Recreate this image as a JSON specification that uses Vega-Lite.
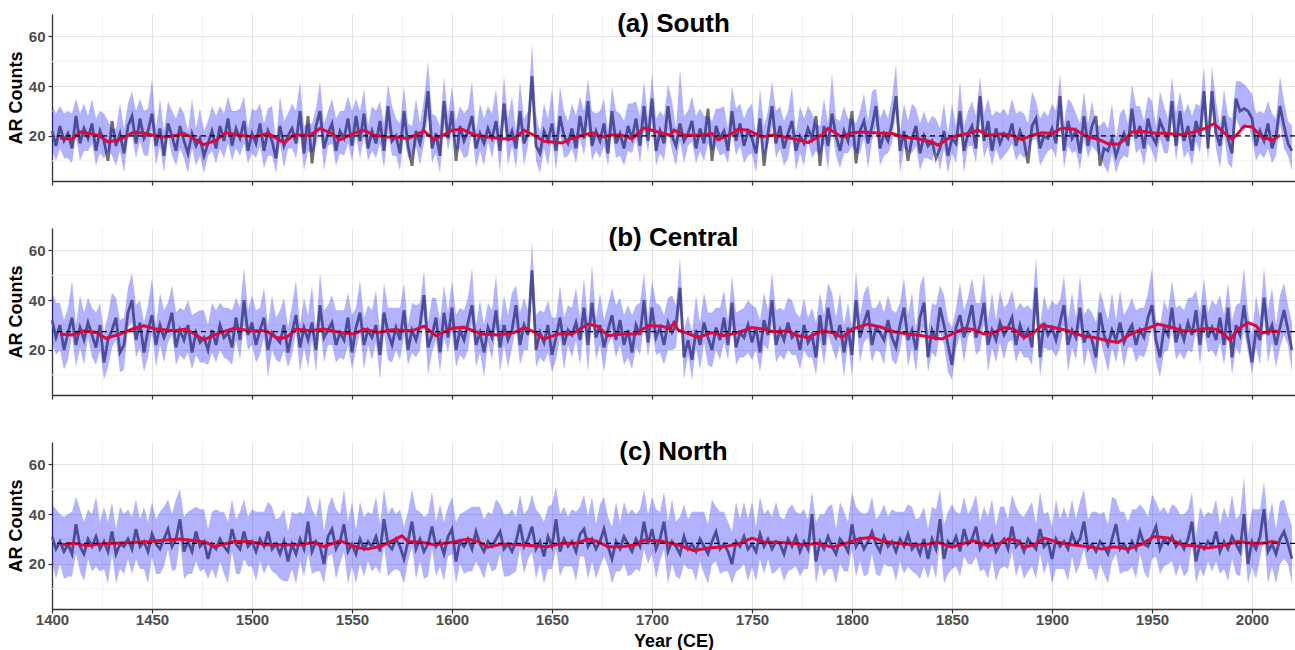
{
"$schema":"https://vega.github.io/schema/vega-lite/v6.json",
"padding":{"left":7,"top":11,"right":0,"bottom":0},
"background":"white",
"spacing":39,
"config":{"font":"Liberation Sans","view":{"stroke":null},
"title":{"fontSize":26,"fontWeight":"bold","color":"#000000","font":"Liberation Sans","offset":-23,"baseline":"alphabetic","anchor":"middle"},
"axis":{"domainColor":"#333333","domainWidth":1.3,"tickColor":"#333333","tickWidth":1.2,"tickSize":4,"labelColor":"#4d4d4d","labelFontSize":15,"labelFontWeight":"bold","labelFont":"Liberation Sans","titleFont":"Liberation Sans","titleFontSize":18,"titleFontWeight":"bold","titleColor":"#000000","gridWidth":1,"gridColor":"#e3e3e3","labelOverlap":false,"labelFlush":false}},
"datasets":{
"grid":[{"g":10},{"g":30},{"g":50}],
"a":[{"x":1400,"v":22,"l":14,"h":32},{"x":1402,"v":16,"l":10,"h":29},{"x":1404,"v":24,"l":15,"h":32},{"x":1406,"v":18,"l":11,"h":29},{"x":1408,"v":21,"l":11,"h":30},{"x":1410,"v":15,"l":9,"h":29},{"x":1412,"v":28,"l":20,"h":35},{"x":1414,"v":17,"l":10,"h":29},{"x":1416,"v":23,"l":14,"h":33},{"x":1418,"v":19,"l":14,"h":28},
{"x":1420,"v":25,"l":17,"h":35},{"x":1422,"v":14,"l":8,"h":27},{"x":1424,"v":22,"l":13,"h":30},{"x":1426,"v":18,"l":11,"h":29},{"x":1428,"v":10,"l":14,"h":26},{"x":1430,"v":26,"l":12,"h":23},{"x":1432,"v":16,"l":8,"h":23},{"x":1434,"v":21,"l":14,"h":33},{"x":1436,"v":13,"l":5,"h":23},{"x":1438,"v":24,"l":19,"h":33},
{"x":1440,"v":28,"l":20,"h":38},{"x":1442,"v":17,"l":11,"h":30},{"x":1444,"v":27,"l":18,"h":35},{"x":1446,"v":19,"l":12,"h":30},{"x":1448,"v":22,"l":12,"h":31},{"x":1450,"v":29,"l":23,"h":43},{"x":1452,"v":16,"l":8,"h":23},{"x":1454,"v":23,"l":16,"h":35},{"x":1456,"v":12,"l":5,"h":22},{"x":1458,"v":25,"l":20,"h":34},
{"x":1460,"v":20,"l":12,"h":30},{"x":1462,"v":14,"l":8,"h":27},{"x":1464,"v":24,"l":15,"h":32},{"x":1466,"v":18,"l":11,"h":29},{"x":1468,"v":13,"l":5,"h":22},{"x":1470,"v":21,"l":15,"h":35},{"x":1472,"v":16,"l":8,"h":23},{"x":1474,"v":19,"l":12,"h":31},{"x":1476,"v":12,"l":5,"h":22},{"x":1478,"v":17,"l":12,"h":26},
{"x":1480,"v":22,"l":14,"h":32},{"x":1482,"v":15,"l":9,"h":28},{"x":1484,"v":24,"l":15,"h":32},{"x":1486,"v":18,"l":11,"h":29},{"x":1488,"v":27,"l":17,"h":36},{"x":1490,"v":16,"l":10,"h":30},{"x":1492,"v":23,"l":15,"h":30},{"x":1494,"v":19,"l":12,"h":31},{"x":1496,"v":26,"l":17,"h":36},{"x":1498,"v":14,"l":9,"h":23},
{"x":1500,"v":21,"l":13,"h":31},{"x":1502,"v":17,"l":11,"h":30},{"x":1504,"v":25,"l":16,"h":33},{"x":1506,"v":14,"l":7,"h":25},{"x":1508,"v":22,"l":12,"h":31},{"x":1510,"v":18,"l":12,"h":32},{"x":1512,"v":11,"l":5,"h":18},{"x":1514,"v":24,"l":17,"h":36},{"x":1516,"v":16,"l":7,"h":26},{"x":1518,"v":20,"l":15,"h":29},
{"x":1520,"v":23,"l":15,"h":33},{"x":1522,"v":17,"l":11,"h":30},{"x":1524,"v":30,"l":21,"h":42},{"x":1526,"v":13,"l":6,"h":24},{"x":1528,"v":28,"l":14,"h":25},{"x":1530,"v":9,"l":13,"h":25},{"x":1532,"v":24,"l":16,"h":31},{"x":1534,"v":30,"l":23,"h":42},{"x":1536,"v":15,"l":6,"h":25},{"x":1538,"v":21,"l":16,"h":30},
{"x":1540,"v":25,"l":17,"h":35},{"x":1542,"v":14,"l":8,"h":27},{"x":1544,"v":22,"l":13,"h":30},{"x":1546,"v":19,"l":12,"h":30},{"x":1548,"v":27,"l":17,"h":36},{"x":1550,"v":16,"l":10,"h":30},{"x":1552,"v":28,"l":20,"h":35},{"x":1554,"v":18,"l":11,"h":30},{"x":1556,"v":29,"l":20,"h":39},{"x":1558,"v":15,"l":10,"h":24},
{"x":1560,"v":22,"l":14,"h":32},{"x":1562,"v":17,"l":11,"h":30},{"x":1564,"v":26,"l":17,"h":34},{"x":1566,"v":14,"l":7,"h":25},{"x":1568,"v":32,"l":22,"h":41},{"x":1570,"v":18,"l":12,"h":32},{"x":1572,"v":20,"l":12,"h":27},{"x":1574,"v":13,"l":6,"h":25},{"x":1576,"v":30,"l":21,"h":40},{"x":1578,"v":16,"l":11,"h":25},
{"x":1580,"v":8,"l":12,"h":24},{"x":1582,"v":22,"l":16,"h":35},{"x":1584,"v":17,"l":8,"h":25},{"x":1586,"v":24,"l":17,"h":35},{"x":1588,"v":38,"l":28,"h":50},{"x":1590,"v":15,"l":9,"h":29},{"x":1592,"v":21,"l":13,"h":28},{"x":1594,"v":12,"l":5,"h":24},{"x":1596,"v":34,"l":25,"h":44},{"x":1598,"v":19,"l":14,"h":28},
{"x":1600,"v":30,"l":22,"h":40},{"x":1602,"v":10,"l":14,"h":26},{"x":1604,"v":24,"l":15,"h":32},{"x":1606,"v":18,"l":11,"h":29},{"x":1608,"v":22,"l":12,"h":31},{"x":1610,"v":28,"l":22,"h":42},{"x":1612,"v":15,"l":7,"h":22},{"x":1614,"v":21,"l":14,"h":33},{"x":1616,"v":17,"l":8,"h":27},{"x":1618,"v":23,"l":18,"h":32},
{"x":1620,"v":19,"l":11,"h":29},{"x":1622,"v":26,"l":20,"h":39},{"x":1624,"v":14,"l":5,"h":22},{"x":1626,"v":33,"l":26,"h":44},{"x":1628,"v":18,"l":8,"h":27},{"x":1630,"v":22,"l":16,"h":36},{"x":1632,"v":15,"l":7,"h":22},{"x":1634,"v":30,"l":23,"h":42},{"x":1636,"v":17,"l":8,"h":27},{"x":1638,"v":21,"l":16,"h":30},
{"x":1640,"v":44,"l":36,"h":57},{"x":1642,"v":16,"l":10,"h":29},{"x":1644,"v":13,"l":5,"h":21},{"x":1646,"v":22,"l":15,"h":33},{"x":1648,"v":18,"l":8,"h":27},{"x":1650,"v":25,"l":19,"h":39},{"x":1652,"v":14,"l":6,"h":21},{"x":1654,"v":28,"l":21,"h":40},{"x":1656,"v":20,"l":11,"h":30},{"x":1658,"v":17,"l":12,"h":26},
{"x":1660,"v":23,"l":15,"h":33},{"x":1662,"v":15,"l":9,"h":28},{"x":1664,"v":28,"l":19,"h":36},{"x":1666,"v":19,"l":12,"h":30},{"x":1668,"v":34,"l":24,"h":43},{"x":1670,"v":16,"l":10,"h":30},{"x":1672,"v":22,"l":14,"h":29},{"x":1674,"v":18,"l":11,"h":30},{"x":1676,"v":25,"l":16,"h":35},{"x":1678,"v":13,"l":8,"h":22},
{"x":1680,"v":30,"l":22,"h":40},{"x":1682,"v":17,"l":11,"h":30},{"x":1684,"v":21,"l":12,"h":29},{"x":1686,"v":15,"l":8,"h":26},{"x":1688,"v":24,"l":14,"h":33},{"x":1690,"v":19,"l":13,"h":33},{"x":1692,"v":27,"l":19,"h":34},{"x":1694,"v":16,"l":9,"h":28},{"x":1696,"v":32,"l":23,"h":42},{"x":1698,"v":18,"l":13,"h":27},
{"x":1700,"v":35,"l":27,"h":45},{"x":1702,"v":14,"l":8,"h":27},{"x":1704,"v":22,"l":13,"h":30},{"x":1706,"v":17,"l":10,"h":28},{"x":1708,"v":32,"l":22,"h":41},{"x":1710,"v":20,"l":14,"h":34},{"x":1712,"v":16,"l":8,"h":23},{"x":1714,"v":25,"l":18,"h":47},{"x":1716,"v":18,"l":9,"h":28},{"x":1718,"v":21,"l":16,"h":30},
{"x":1720,"v":26,"l":18,"h":36},{"x":1722,"v":15,"l":9,"h":28},{"x":1724,"v":23,"l":14,"h":31},{"x":1726,"v":17,"l":10,"h":28},{"x":1728,"v":31,"l":17,"h":28},{"x":1730,"v":10,"l":14,"h":26},{"x":1732,"v":24,"l":16,"h":31},{"x":1734,"v":19,"l":12,"h":31},{"x":1736,"v":22,"l":13,"h":32},{"x":1738,"v":14,"l":9,"h":23},
{"x":1740,"v":30,"l":22,"h":40},{"x":1742,"v":18,"l":12,"h":31},{"x":1744,"v":25,"l":16,"h":33},{"x":1746,"v":16,"l":9,"h":27},{"x":1748,"v":22,"l":12,"h":31},{"x":1750,"v":19,"l":13,"h":33},{"x":1752,"v":13,"l":5,"h":20},{"x":1754,"v":27,"l":20,"h":39},{"x":1756,"v":8,"l":12,"h":24},{"x":1758,"v":21,"l":16,"h":30},
{"x":1760,"v":32,"l":24,"h":42},{"x":1762,"v":17,"l":11,"h":30},{"x":1764,"v":24,"l":15,"h":32},{"x":1766,"v":15,"l":8,"h":26},{"x":1768,"v":21,"l":11,"h":30},{"x":1770,"v":26,"l":20,"h":40},{"x":1772,"v":14,"l":6,"h":21},{"x":1774,"v":20,"l":13,"h":32},{"x":1776,"v":17,"l":8,"h":27},{"x":1778,"v":23,"l":18,"h":32},
{"x":1780,"v":19,"l":11,"h":29},{"x":1782,"v":28,"l":14,"h":25},{"x":1784,"v":8,"l":12,"h":24},{"x":1786,"v":24,"l":17,"h":35},{"x":1788,"v":16,"l":6,"h":25},{"x":1790,"v":29,"l":23,"h":45},{"x":1792,"v":20,"l":12,"h":27},{"x":1794,"v":14,"l":7,"h":26},{"x":1796,"v":22,"l":13,"h":32},{"x":1798,"v":18,"l":13,"h":27},
{"x":1800,"v":30,"l":16,"h":27},{"x":1802,"v":9,"l":13,"h":25},{"x":1804,"v":22,"l":13,"h":30},{"x":1806,"v":26,"l":19,"h":37},{"x":1808,"v":17,"l":7,"h":26},{"x":1810,"v":24,"l":18,"h":38},{"x":1812,"v":32,"l":24,"h":39},{"x":1814,"v":15,"l":8,"h":27},{"x":1816,"v":21,"l":12,"h":31},{"x":1818,"v":18,"l":13,"h":27},
{"x":1820,"v":25,"l":17,"h":35},{"x":1822,"v":36,"l":30,"h":49},{"x":1824,"v":14,"l":5,"h":22},{"x":1826,"v":22,"l":15,"h":33},{"x":1828,"v":10,"l":14,"h":26},{"x":1830,"v":19,"l":13,"h":33},{"x":1832,"v":24,"l":16,"h":31},{"x":1834,"v":13,"l":6,"h":25},{"x":1836,"v":20,"l":11,"h":30},{"x":1838,"v":16,"l":11,"h":25},
{"x":1840,"v":18,"l":10,"h":28},{"x":1842,"v":11,"l":15,"h":27},{"x":1844,"v":15,"l":6,"h":23},{"x":1846,"v":22,"l":15,"h":33},{"x":1848,"v":12,"l":5,"h":21},{"x":1850,"v":19,"l":13,"h":33},{"x":1852,"v":17,"l":9,"h":24},{"x":1854,"v":30,"l":23,"h":42},{"x":1856,"v":14,"l":5,"h":24},{"x":1858,"v":21,"l":16,"h":30},
{"x":1860,"v":24,"l":16,"h":34},{"x":1862,"v":15,"l":9,"h":28},{"x":1864,"v":36,"l":27,"h":44},{"x":1866,"v":18,"l":11,"h":29},{"x":1868,"v":26,"l":16,"h":35},{"x":1870,"v":14,"l":8,"h":28},{"x":1872,"v":23,"l":15,"h":30},{"x":1874,"v":17,"l":10,"h":29},{"x":1876,"v":21,"l":12,"h":31},{"x":1878,"v":19,"l":14,"h":28},
{"x":1880,"v":25,"l":17,"h":35},{"x":1882,"v":16,"l":10,"h":29},{"x":1884,"v":22,"l":13,"h":30},{"x":1886,"v":18,"l":11,"h":29},{"x":1888,"v":9,"l":13,"h":25},{"x":1890,"v":24,"l":18,"h":38},{"x":1892,"v":27,"l":19,"h":34},{"x":1894,"v":15,"l":8,"h":27},{"x":1896,"v":20,"l":11,"h":30},{"x":1898,"v":19,"l":14,"h":28},
{"x":1900,"v":23,"l":15,"h":33},{"x":1902,"v":17,"l":11,"h":30},{"x":1904,"v":36,"l":27,"h":45},{"x":1906,"v":14,"l":7,"h":25},{"x":1908,"v":26,"l":16,"h":35},{"x":1910,"v":19,"l":13,"h":33},{"x":1912,"v":22,"l":14,"h":29},{"x":1914,"v":13,"l":6,"h":25},{"x":1916,"v":28,"l":19,"h":38},{"x":1918,"v":16,"l":11,"h":25},
{"x":1920,"v":24,"l":16,"h":34},{"x":1922,"v":28,"l":14,"h":25},{"x":1924,"v":8,"l":12,"h":24},{"x":1926,"v":15,"l":8,"h":26},{"x":1928,"v":14,"l":5,"h":23},{"x":1930,"v":19,"l":13,"h":33},{"x":1932,"v":12,"l":5,"h":19},{"x":1934,"v":17,"l":10,"h":29},{"x":1936,"v":21,"l":12,"h":31},{"x":1938,"v":16,"l":11,"h":25},
{"x":1940,"v":31,"l":23,"h":41},{"x":1942,"v":19,"l":13,"h":32},{"x":1944,"v":24,"l":15,"h":32},{"x":1946,"v":15,"l":8,"h":26},{"x":1948,"v":27,"l":17,"h":36},{"x":1950,"v":20,"l":14,"h":34},{"x":1952,"v":17,"l":9,"h":24},{"x":1954,"v":26,"l":19,"h":38},{"x":1956,"v":22,"l":13,"h":32},{"x":1958,"v":18,"l":13,"h":27},
{"x":1960,"v":34,"l":26,"h":44},{"x":1962,"v":16,"l":10,"h":29},{"x":1964,"v":30,"l":21,"h":38},{"x":1966,"v":18,"l":11,"h":29},{"x":1968,"v":24,"l":14,"h":33},{"x":1970,"v":14,"l":8,"h":28},{"x":1972,"v":26,"l":18,"h":33},{"x":1974,"v":20,"l":13,"h":32},{"x":1976,"v":38,"l":29,"h":48},{"x":1978,"v":15,"l":10,"h":24},
{"x":1980,"v":38,"l":30,"h":48},{"x":1982,"v":21,"l":15,"h":34},{"x":1984,"v":16,"l":7,"h":24},{"x":1986,"v":28,"l":21,"h":39},{"x":1988,"v":19,"l":9,"h":28},{"x":1990,"v":13,"l":7,"h":27},{"x":1992,"v":35,"l":27,"h":42},{"x":1994,"v":30,"l":23,"h":42},{"x":1996,"v":31,"l":22,"h":41},{"x":1998,"v":30,"l":25,"h":39},
{"x":2000,"v":27,"l":19,"h":37},{"x":2002,"v":16,"l":10,"h":29},{"x":2004,"v":22,"l":13,"h":30},{"x":2006,"v":18,"l":11,"h":29},{"x":2008,"v":25,"l":15,"h":34},{"x":2010,"v":15,"l":9,"h":29},{"x":2012,"v":20,"l":12,"h":27},{"x":2014,"v":32,"l":25,"h":44},{"x":2016,"v":24,"l":15,"h":34},{"x":2018,"v":17,"l":12,"h":26},{"x":2020,"v":14,"l":6,"h":24}],
"b":[{"x":1400,"v":32,"l":23,"h":43},{"x":1402,"v":25,"l":18,"h":39},{"x":1404,"v":30,"l":20,"h":39},{"x":1406,"v":20,"l":12,"h":32},{"x":1408,"v":27,"l":16,"h":37},{"x":1410,"v":33,"l":26,"h":48},{"x":1412,"v":22,"l":13,"h":30},{"x":1414,"v":29,"l":21,"h":42},{"x":1416,"v":24,"l":14,"h":35},{"x":1418,"v":31,"l":25,"h":41},
{"x":1420,"v":26,"l":17,"h":37},{"x":1422,"v":21,"l":14,"h":35},{"x":1424,"v":30,"l":20,"h":39},{"x":1426,"v":15,"l":8,"h":27},{"x":1428,"v":24,"l":13,"h":34},{"x":1430,"v":28,"l":21,"h":43},{"x":1432,"v":33,"l":24,"h":41},{"x":1434,"v":19,"l":11,"h":32},{"x":1436,"v":22,"l":12,"h":33},{"x":1438,"v":35,"l":29,"h":45},
{"x":1440,"v":40,"l":31,"h":51},{"x":1442,"v":24,"l":17,"h":38},{"x":1444,"v":31,"l":21,"h":40},{"x":1446,"v":19,"l":11,"h":31},{"x":1448,"v":28,"l":17,"h":38},{"x":1450,"v":34,"l":27,"h":49},{"x":1452,"v":22,"l":13,"h":30},{"x":1454,"v":30,"l":22,"h":43},{"x":1456,"v":25,"l":15,"h":36},{"x":1458,"v":29,"l":23,"h":39},
{"x":1460,"v":35,"l":26,"h":46},{"x":1462,"v":21,"l":14,"h":35},{"x":1464,"v":28,"l":18,"h":37},{"x":1466,"v":24,"l":16,"h":36},{"x":1468,"v":30,"l":19,"h":40},{"x":1470,"v":19,"l":12,"h":34},{"x":1472,"v":27,"l":18,"h":35},{"x":1474,"v":23,"l":15,"h":36},{"x":1476,"v":25,"l":15,"h":36},{"x":1478,"v":20,"l":14,"h":30},
{"x":1480,"v":28,"l":19,"h":39},{"x":1482,"v":22,"l":15,"h":36},{"x":1484,"v":30,"l":20,"h":39},{"x":1486,"v":25,"l":17,"h":37},{"x":1488,"v":27,"l":16,"h":37},{"x":1490,"v":21,"l":14,"h":36},{"x":1492,"v":33,"l":24,"h":41},{"x":1494,"v":24,"l":16,"h":37},{"x":1496,"v":40,"l":30,"h":53},{"x":1498,"v":26,"l":20,"h":36},
{"x":1500,"v":31,"l":22,"h":42},{"x":1502,"v":22,"l":15,"h":36},{"x":1504,"v":28,"l":18,"h":37},{"x":1506,"v":33,"l":25,"h":45},{"x":1508,"v":20,"l":9,"h":30},{"x":1510,"v":27,"l":20,"h":42},{"x":1512,"v":25,"l":16,"h":33},{"x":1514,"v":23,"l":15,"h":36},{"x":1516,"v":30,"l":20,"h":41},{"x":1518,"v":19,"l":13,"h":29},
{"x":1520,"v":27,"l":18,"h":38},{"x":1522,"v":34,"l":27,"h":48},{"x":1524,"v":21,"l":11,"h":30},{"x":1526,"v":29,"l":21,"h":41},{"x":1528,"v":24,"l":13,"h":34},{"x":1530,"v":31,"l":24,"h":46},{"x":1532,"v":20,"l":11,"h":28},{"x":1534,"v":38,"l":30,"h":51},{"x":1536,"v":25,"l":15,"h":36},{"x":1538,"v":28,"l":22,"h":38},
{"x":1540,"v":31,"l":22,"h":42},{"x":1542,"v":22,"l":15,"h":36},{"x":1544,"v":27,"l":17,"h":36},{"x":1546,"v":24,"l":16,"h":36},{"x":1548,"v":33,"l":22,"h":43},{"x":1550,"v":19,"l":12,"h":34},{"x":1552,"v":29,"l":20,"h":37},{"x":1554,"v":35,"l":27,"h":48},{"x":1556,"v":22,"l":12,"h":33},{"x":1558,"v":28,"l":22,"h":38},
{"x":1560,"v":25,"l":16,"h":36},{"x":1562,"v":30,"l":23,"h":44},{"x":1564,"v":18,"l":8,"h":27},{"x":1566,"v":35,"l":27,"h":47},{"x":1568,"v":27,"l":16,"h":37},{"x":1570,"v":22,"l":15,"h":37},{"x":1572,"v":29,"l":20,"h":37},{"x":1574,"v":24,"l":16,"h":37},{"x":1576,"v":36,"l":26,"h":47},{"x":1578,"v":20,"l":14,"h":30},
{"x":1580,"v":28,"l":19,"h":39},{"x":1582,"v":24,"l":17,"h":38},{"x":1584,"v":30,"l":20,"h":39},{"x":1586,"v":42,"l":34,"h":52},{"x":1588,"v":21,"l":10,"h":31},{"x":1590,"v":26,"l":19,"h":41},{"x":1592,"v":33,"l":24,"h":41},{"x":1594,"v":19,"l":11,"h":32},{"x":1596,"v":35,"l":25,"h":46},{"x":1598,"v":25,"l":19,"h":35},
{"x":1600,"v":37,"l":28,"h":48},{"x":1602,"v":20,"l":13,"h":34},{"x":1604,"v":28,"l":18,"h":37},{"x":1606,"v":24,"l":16,"h":36},{"x":1608,"v":31,"l":20,"h":41},{"x":1610,"v":38,"l":31,"h":53},{"x":1612,"v":22,"l":13,"h":30},{"x":1614,"v":27,"l":19,"h":40},{"x":1616,"v":19,"l":9,"h":30},{"x":1618,"v":29,"l":23,"h":39},
{"x":1620,"v":25,"l":16,"h":36},{"x":1622,"v":36,"l":29,"h":50},{"x":1624,"v":21,"l":11,"h":30},{"x":1626,"v":30,"l":22,"h":42},{"x":1628,"v":24,"l":13,"h":34},{"x":1630,"v":28,"l":21,"h":43},{"x":1632,"v":38,"l":29,"h":46},{"x":1634,"v":22,"l":14,"h":35},{"x":1636,"v":30,"l":20,"h":41},{"x":1638,"v":26,"l":20,"h":36},
{"x":1640,"v":52,"l":43,"h":64},{"x":1642,"v":20,"l":13,"h":34},{"x":1644,"v":27,"l":17,"h":36},{"x":1646,"v":23,"l":15,"h":35},{"x":1648,"v":30,"l":19,"h":40},{"x":1650,"v":18,"l":11,"h":33},{"x":1652,"v":25,"l":16,"h":33},{"x":1654,"v":33,"l":25,"h":46},{"x":1656,"v":22,"l":12,"h":33},{"x":1658,"v":28,"l":22,"h":38},
{"x":1660,"v":26,"l":17,"h":37},{"x":1662,"v":31,"l":24,"h":45},{"x":1664,"v":24,"l":14,"h":33},{"x":1666,"v":37,"l":29,"h":49},{"x":1668,"v":22,"l":11,"h":32},{"x":1670,"v":39,"l":32,"h":54},{"x":1672,"v":25,"l":16,"h":33},{"x":1674,"v":30,"l":22,"h":43},{"x":1676,"v":21,"l":11,"h":32},{"x":1678,"v":28,"l":22,"h":38},
{"x":1680,"v":34,"l":25,"h":45},{"x":1682,"v":24,"l":17,"h":38},{"x":1684,"v":32,"l":22,"h":41},{"x":1686,"v":22,"l":14,"h":34},{"x":1688,"v":28,"l":17,"h":38},{"x":1690,"v":19,"l":12,"h":34},{"x":1692,"v":30,"l":21,"h":38},{"x":1694,"v":26,"l":18,"h":39},{"x":1696,"v":40,"l":30,"h":51},{"x":1698,"v":23,"l":17,"h":33},
{"x":1700,"v":37,"l":28,"h":48},{"x":1702,"v":25,"l":18,"h":39},{"x":1704,"v":29,"l":19,"h":38},{"x":1706,"v":22,"l":14,"h":34},{"x":1708,"v":31,"l":20,"h":41},{"x":1710,"v":27,"l":20,"h":42},{"x":1712,"v":30,"l":21,"h":38},{"x":1714,"v":45,"l":37,"h":57},{"x":1716,"v":17,"l":8,"h":28},{"x":1718,"v":24,"l":18,"h":34},
{"x":1720,"v":16,"l":8,"h":27},{"x":1722,"v":28,"l":21,"h":42},{"x":1724,"v":22,"l":12,"h":31},{"x":1726,"v":31,"l":23,"h":43},{"x":1728,"v":25,"l":14,"h":35},{"x":1730,"v":20,"l":13,"h":35},{"x":1732,"v":29,"l":20,"h":37},{"x":1734,"v":24,"l":16,"h":37},{"x":1736,"v":33,"l":23,"h":44},{"x":1738,"v":22,"l":16,"h":32},
{"x":1740,"v":39,"l":30,"h":50},{"x":1742,"v":21,"l":14,"h":35},{"x":1744,"v":27,"l":17,"h":36},{"x":1746,"v":25,"l":17,"h":37},{"x":1748,"v":30,"l":19,"h":40},{"x":1750,"v":23,"l":16,"h":38},{"x":1752,"v":29,"l":20,"h":37},{"x":1754,"v":19,"l":11,"h":32},{"x":1756,"v":32,"l":22,"h":43},{"x":1758,"v":26,"l":20,"h":36},
{"x":1760,"v":40,"l":31,"h":51},{"x":1762,"v":22,"l":15,"h":36},{"x":1764,"v":28,"l":18,"h":37},{"x":1766,"v":24,"l":16,"h":36},{"x":1768,"v":31,"l":20,"h":41},{"x":1770,"v":25,"l":18,"h":40},{"x":1772,"v":27,"l":18,"h":35},{"x":1774,"v":20,"l":12,"h":33},{"x":1776,"v":30,"l":20,"h":41},{"x":1778,"v":23,"l":17,"h":33},
{"x":1780,"v":26,"l":17,"h":37},{"x":1782,"v":17,"l":10,"h":31},{"x":1784,"v":34,"l":24,"h":43},{"x":1786,"v":22,"l":14,"h":34},{"x":1788,"v":37,"l":26,"h":47},{"x":1790,"v":28,"l":21,"h":43},{"x":1792,"v":25,"l":16,"h":33},{"x":1794,"v":30,"l":22,"h":43},{"x":1796,"v":19,"l":9,"h":30},{"x":1798,"v":29,"l":23,"h":39},
{"x":1800,"v":18,"l":9,"h":29},{"x":1802,"v":40,"l":33,"h":52},{"x":1804,"v":25,"l":15,"h":34},{"x":1806,"v":31,"l":23,"h":43},{"x":1808,"v":36,"l":25,"h":46},{"x":1810,"v":22,"l":15,"h":37},{"x":1812,"v":29,"l":20,"h":37},{"x":1814,"v":27,"l":19,"h":40},{"x":1816,"v":24,"l":14,"h":35},{"x":1818,"v":32,"l":26,"h":42},
{"x":1820,"v":25,"l":16,"h":36},{"x":1822,"v":21,"l":14,"h":35},{"x":1824,"v":30,"l":20,"h":39},{"x":1826,"v":37,"l":29,"h":49},{"x":1828,"v":24,"l":13,"h":34},{"x":1830,"v":28,"l":21,"h":43},{"x":1832,"v":20,"l":11,"h":28},{"x":1834,"v":33,"l":25,"h":46},{"x":1836,"v":39,"l":29,"h":50},{"x":1838,"v":17,"l":11,"h":27},
{"x":1840,"v":28,"l":19,"h":39},{"x":1842,"v":24,"l":17,"h":38},{"x":1844,"v":37,"l":27,"h":46},{"x":1846,"v":30,"l":22,"h":42},{"x":1848,"v":22,"l":11,"h":32},{"x":1850,"v":14,"l":8,"h":29},{"x":1852,"v":29,"l":20,"h":37},{"x":1854,"v":34,"l":26,"h":47},{"x":1856,"v":25,"l":15,"h":36},{"x":1858,"v":31,"l":25,"h":41},
{"x":1860,"v":38,"l":29,"h":49},{"x":1862,"v":25,"l":18,"h":39},{"x":1864,"v":30,"l":20,"h":39},{"x":1866,"v":39,"l":31,"h":51},{"x":1868,"v":22,"l":11,"h":32},{"x":1870,"v":28,"l":21,"h":43},{"x":1872,"v":24,"l":15,"h":32},{"x":1874,"v":31,"l":23,"h":44},{"x":1876,"v":26,"l":16,"h":37},{"x":1878,"v":29,"l":23,"h":39},
{"x":1880,"v":33,"l":24,"h":44},{"x":1882,"v":22,"l":15,"h":36},{"x":1884,"v":30,"l":20,"h":39},{"x":1886,"v":25,"l":17,"h":37},{"x":1888,"v":28,"l":17,"h":38},{"x":1890,"v":21,"l":14,"h":36},{"x":1892,"v":45,"l":36,"h":57},{"x":1894,"v":17,"l":9,"h":30},{"x":1896,"v":31,"l":21,"h":42},{"x":1898,"v":26,"l":20,"h":36},
{"x":1900,"v":29,"l":20,"h":40},{"x":1902,"v":24,"l":17,"h":38},{"x":1904,"v":31,"l":21,"h":40},{"x":1906,"v":38,"l":30,"h":50},{"x":1908,"v":22,"l":11,"h":32},{"x":1910,"v":28,"l":21,"h":43},{"x":1912,"v":25,"l":16,"h":33},{"x":1914,"v":37,"l":29,"h":50},{"x":1916,"v":23,"l":13,"h":34},{"x":1918,"v":27,"l":21,"h":37},
{"x":1920,"v":24,"l":15,"h":35},{"x":1922,"v":17,"l":10,"h":31},{"x":1924,"v":35,"l":25,"h":44},{"x":1926,"v":26,"l":18,"h":38},{"x":1928,"v":22,"l":11,"h":32},{"x":1930,"v":28,"l":21,"h":43},{"x":1932,"v":24,"l":15,"h":32},{"x":1934,"v":31,"l":23,"h":44},{"x":1936,"v":23,"l":13,"h":34},{"x":1938,"v":27,"l":21,"h":37},
{"x":1940,"v":30,"l":21,"h":41},{"x":1942,"v":22,"l":15,"h":36},{"x":1944,"v":28,"l":18,"h":37},{"x":1946,"v":25,"l":17,"h":37},{"x":1948,"v":33,"l":22,"h":43},{"x":1950,"v":38,"l":31,"h":53},{"x":1952,"v":24,"l":15,"h":32},{"x":1954,"v":17,"l":9,"h":30},{"x":1956,"v":29,"l":19,"h":40},{"x":1958,"v":26,"l":20,"h":36},
{"x":1960,"v":37,"l":28,"h":48},{"x":1962,"v":23,"l":16,"h":37},{"x":1964,"v":29,"l":19,"h":38},{"x":1966,"v":24,"l":16,"h":36},{"x":1968,"v":31,"l":20,"h":41},{"x":1970,"v":26,"l":19,"h":41},{"x":1972,"v":36,"l":27,"h":44},{"x":1974,"v":22,"l":14,"h":35},{"x":1976,"v":38,"l":28,"h":49},{"x":1978,"v":25,"l":19,"h":35},
{"x":1980,"v":29,"l":20,"h":40},{"x":1982,"v":24,"l":17,"h":38},{"x":1984,"v":33,"l":23,"h":42},{"x":1986,"v":22,"l":14,"h":34},{"x":1988,"v":37,"l":26,"h":47},{"x":1990,"v":17,"l":10,"h":32},{"x":1992,"v":30,"l":21,"h":38},{"x":1994,"v":26,"l":18,"h":39},{"x":1996,"v":38,"l":28,"h":53},{"x":1998,"v":25,"l":19,"h":35},
{"x":2000,"v":15,"l":10,"h":26},{"x":2002,"v":28,"l":21,"h":42},{"x":2004,"v":24,"l":14,"h":33},{"x":2006,"v":41,"l":33,"h":53},{"x":2008,"v":26,"l":15,"h":36},{"x":2010,"v":30,"l":23,"h":45},{"x":2012,"v":22,"l":13,"h":30},{"x":2014,"v":29,"l":21,"h":42},{"x":2016,"v":36,"l":26,"h":47},{"x":2018,"v":28,"l":22,"h":38},{"x":2020,"v":20,"l":11,"h":31}],
"c":[{"x":1400,"v":31,"l":21,"h":44},{"x":1402,"v":26,"l":14,"h":42},{"x":1404,"v":29,"l":20,"h":40},{"x":1406,"v":25,"l":14,"h":39},{"x":1408,"v":28,"l":15,"h":40},{"x":1410,"v":24,"l":15,"h":41},{"x":1412,"v":36,"l":24,"h":47},{"x":1414,"v":27,"l":17,"h":42},{"x":1416,"v":24,"l":13,"h":37},{"x":1418,"v":30,"l":22,"h":42},
{"x":1420,"v":27,"l":17,"h":40},{"x":1422,"v":31,"l":19,"h":47},{"x":1424,"v":26,"l":17,"h":37},{"x":1426,"v":29,"l":18,"h":43},{"x":1428,"v":25,"l":12,"h":37},{"x":1430,"v":33,"l":24,"h":45},{"x":1432,"v":24,"l":12,"h":34},{"x":1434,"v":28,"l":18,"h":43},{"x":1436,"v":27,"l":16,"h":40},{"x":1438,"v":30,"l":22,"h":42},
{"x":1440,"v":26,"l":16,"h":39},{"x":1442,"v":34,"l":22,"h":46},{"x":1444,"v":27,"l":18,"h":38},{"x":1446,"v":29,"l":18,"h":43},{"x":1448,"v":25,"l":12,"h":37},{"x":1450,"v":32,"l":23,"h":45},{"x":1452,"v":28,"l":16,"h":38},{"x":1454,"v":26,"l":16,"h":41},{"x":1456,"v":30,"l":19,"h":43},{"x":1458,"v":34,"l":26,"h":46},
{"x":1460,"v":27,"l":17,"h":40},{"x":1462,"v":30,"l":18,"h":46},{"x":1464,"v":38,"l":29,"h":50},{"x":1466,"v":25,"l":14,"h":39},{"x":1468,"v":29,"l":16,"h":41},{"x":1470,"v":25,"l":16,"h":42},{"x":1472,"v":33,"l":21,"h":43},{"x":1474,"v":27,"l":17,"h":42},{"x":1476,"v":29,"l":18,"h":42},{"x":1478,"v":22,"l":14,"h":34},
{"x":1480,"v":28,"l":18,"h":41},{"x":1482,"v":26,"l":14,"h":42},{"x":1484,"v":30,"l":21,"h":41},{"x":1486,"v":27,"l":16,"h":41},{"x":1488,"v":25,"l":12,"h":37},{"x":1490,"v":34,"l":25,"h":46},{"x":1492,"v":28,"l":16,"h":38},{"x":1494,"v":26,"l":16,"h":41},{"x":1496,"v":33,"l":22,"h":46},{"x":1498,"v":27,"l":19,"h":39},
{"x":1500,"v":29,"l":19,"h":42},{"x":1502,"v":25,"l":13,"h":41},{"x":1504,"v":30,"l":21,"h":41},{"x":1506,"v":27,"l":16,"h":41},{"x":1508,"v":33,"l":20,"h":45},{"x":1510,"v":26,"l":17,"h":43},{"x":1512,"v":28,"l":16,"h":38},{"x":1514,"v":24,"l":14,"h":39},{"x":1516,"v":29,"l":13,"h":42},{"x":1518,"v":21,"l":13,"h":33},
{"x":1520,"v":28,"l":18,"h":41},{"x":1522,"v":24,"l":12,"h":40},{"x":1524,"v":30,"l":21,"h":41},{"x":1526,"v":26,"l":15,"h":40},{"x":1528,"v":37,"l":24,"h":48},{"x":1530,"v":25,"l":16,"h":42},{"x":1532,"v":29,"l":17,"h":39},{"x":1534,"v":27,"l":17,"h":47},{"x":1536,"v":20,"l":12,"h":33},{"x":1538,"v":31,"l":23,"h":43},
{"x":1540,"v":34,"l":24,"h":47},{"x":1542,"v":26,"l":14,"h":42},{"x":1544,"v":29,"l":20,"h":40},{"x":1546,"v":36,"l":25,"h":50},{"x":1548,"v":25,"l":12,"h":37},{"x":1550,"v":28,"l":19,"h":45},{"x":1552,"v":24,"l":12,"h":34},{"x":1554,"v":30,"l":20,"h":45},{"x":1556,"v":26,"l":15,"h":39},{"x":1558,"v":29,"l":21,"h":41},
{"x":1560,"v":27,"l":17,"h":40},{"x":1562,"v":31,"l":19,"h":47},{"x":1564,"v":25,"l":16,"h":36},{"x":1566,"v":38,"l":27,"h":50},{"x":1568,"v":28,"l":15,"h":40},{"x":1570,"v":26,"l":17,"h":43},{"x":1572,"v":30,"l":18,"h":40},{"x":1574,"v":27,"l":17,"h":42},{"x":1576,"v":22,"l":12,"h":35},{"x":1578,"v":29,"l":21,"h":41},
{"x":1580,"v":37,"l":27,"h":50},{"x":1582,"v":26,"l":14,"h":42},{"x":1584,"v":30,"l":21,"h":41},{"x":1586,"v":25,"l":14,"h":39},{"x":1588,"v":28,"l":15,"h":40},{"x":1590,"v":35,"l":26,"h":49},{"x":1592,"v":27,"l":15,"h":37},{"x":1594,"v":29,"l":19,"h":44},{"x":1596,"v":24,"l":13,"h":37},{"x":1598,"v":31,"l":23,"h":43},
{"x":1600,"v":34,"l":24,"h":47},{"x":1602,"v":21,"l":12,"h":37},{"x":1604,"v":29,"l":20,"h":40},{"x":1606,"v":27,"l":16,"h":41},{"x":1608,"v":30,"l":17,"h":42},{"x":1610,"v":26,"l":17,"h":43},{"x":1612,"v":33,"l":21,"h":43},{"x":1614,"v":28,"l":18,"h":43},{"x":1616,"v":25,"l":14,"h":38},{"x":1618,"v":29,"l":21,"h":41},
{"x":1620,"v":27,"l":17,"h":40},{"x":1622,"v":30,"l":18,"h":46},{"x":1624,"v":33,"l":24,"h":44},{"x":1626,"v":26,"l":15,"h":40},{"x":1628,"v":28,"l":15,"h":40},{"x":1630,"v":25,"l":16,"h":42},{"x":1632,"v":29,"l":17,"h":39},{"x":1634,"v":36,"l":26,"h":48},{"x":1636,"v":27,"l":16,"h":40},{"x":1638,"v":30,"l":22,"h":42},
{"x":1640,"v":35,"l":25,"h":48},{"x":1642,"v":26,"l":14,"h":42},{"x":1644,"v":29,"l":20,"h":40},{"x":1646,"v":23,"l":12,"h":37},{"x":1648,"v":31,"l":18,"h":43},{"x":1650,"v":27,"l":18,"h":44},{"x":1652,"v":38,"l":26,"h":51},{"x":1654,"v":25,"l":15,"h":40},{"x":1656,"v":30,"l":19,"h":43},{"x":1658,"v":27,"l":19,"h":39},
{"x":1660,"v":29,"l":19,"h":42},{"x":1662,"v":25,"l":13,"h":41},{"x":1664,"v":32,"l":23,"h":43},{"x":1666,"v":34,"l":23,"h":48},{"x":1668,"v":27,"l":14,"h":39},{"x":1670,"v":30,"l":21,"h":47},{"x":1672,"v":26,"l":14,"h":36},{"x":1674,"v":29,"l":19,"h":44},{"x":1676,"v":34,"l":23,"h":47},{"x":1678,"v":27,"l":19,"h":39},
{"x":1680,"v":22,"l":12,"h":35},{"x":1682,"v":29,"l":17,"h":45},{"x":1684,"v":26,"l":17,"h":37},{"x":1686,"v":31,"l":20,"h":45},{"x":1688,"v":28,"l":15,"h":40},{"x":1690,"v":25,"l":16,"h":42},{"x":1692,"v":30,"l":18,"h":40},{"x":1694,"v":27,"l":17,"h":42},{"x":1696,"v":37,"l":26,"h":50},{"x":1698,"v":28,"l":20,"h":40},
{"x":1700,"v":34,"l":24,"h":47},{"x":1702,"v":26,"l":14,"h":42},{"x":1704,"v":30,"l":21,"h":41},{"x":1706,"v":37,"l":26,"h":49},{"x":1708,"v":25,"l":12,"h":37},{"x":1710,"v":29,"l":20,"h":46},{"x":1712,"v":27,"l":15,"h":37},{"x":1714,"v":24,"l":14,"h":39},{"x":1716,"v":31,"l":20,"h":44},{"x":1718,"v":26,"l":18,"h":38},
{"x":1720,"v":28,"l":18,"h":41},{"x":1722,"v":25,"l":13,"h":41},{"x":1724,"v":30,"l":21,"h":41},{"x":1726,"v":27,"l":16,"h":41},{"x":1728,"v":24,"l":12,"h":36},{"x":1730,"v":29,"l":20,"h":46},{"x":1732,"v":33,"l":21,"h":43},{"x":1734,"v":26,"l":16,"h":41},{"x":1736,"v":28,"l":17,"h":41},{"x":1738,"v":25,"l":17,"h":37},
{"x":1740,"v":20,"l":12,"h":33},{"x":1742,"v":29,"l":17,"h":45},{"x":1744,"v":27,"l":18,"h":38},{"x":1746,"v":31,"l":20,"h":45},{"x":1748,"v":26,"l":13,"h":38},{"x":1750,"v":28,"l":19,"h":45},{"x":1752,"v":25,"l":13,"h":35},{"x":1754,"v":32,"l":22,"h":47},{"x":1756,"v":27,"l":16,"h":40},{"x":1758,"v":30,"l":22,"h":42},
{"x":1760,"v":26,"l":16,"h":39},{"x":1762,"v":29,"l":17,"h":45},{"x":1764,"v":28,"l":19,"h":39},{"x":1766,"v":24,"l":13,"h":38},{"x":1768,"v":30,"l":17,"h":42},{"x":1770,"v":27,"l":18,"h":44},{"x":1772,"v":31,"l":19,"h":41},{"x":1774,"v":25,"l":15,"h":40},{"x":1776,"v":29,"l":18,"h":42},{"x":1778,"v":26,"l":18,"h":38},
{"x":1780,"v":40,"l":30,"h":49},{"x":1782,"v":21,"l":12,"h":37},{"x":1784,"v":29,"l":20,"h":40},{"x":1786,"v":26,"l":15,"h":40},{"x":1788,"v":31,"l":18,"h":43},{"x":1790,"v":27,"l":18,"h":44},{"x":1792,"v":24,"l":12,"h":34},{"x":1794,"v":30,"l":20,"h":45},{"x":1796,"v":28,"l":17,"h":41},{"x":1798,"v":25,"l":17,"h":37},
{"x":1800,"v":36,"l":26,"h":49},{"x":1802,"v":27,"l":15,"h":43},{"x":1804,"v":30,"l":21,"h":41},{"x":1806,"v":26,"l":15,"h":40},{"x":1808,"v":29,"l":16,"h":41},{"x":1810,"v":33,"l":24,"h":47},{"x":1812,"v":28,"l":16,"h":38},{"x":1814,"v":25,"l":15,"h":40},{"x":1816,"v":31,"l":20,"h":44},{"x":1818,"v":27,"l":19,"h":39},
{"x":1820,"v":29,"l":19,"h":42},{"x":1822,"v":25,"l":13,"h":41},{"x":1824,"v":30,"l":21,"h":41},{"x":1826,"v":27,"l":16,"h":41},{"x":1828,"v":32,"l":19,"h":44},{"x":1830,"v":26,"l":17,"h":43},{"x":1832,"v":28,"l":16,"h":38},{"x":1834,"v":24,"l":14,"h":39},{"x":1836,"v":30,"l":19,"h":43},{"x":1838,"v":22,"l":14,"h":34},
{"x":1840,"v":30,"l":20,"h":43},{"x":1842,"v":26,"l":14,"h":42},{"x":1844,"v":38,"l":29,"h":50},{"x":1846,"v":22,"l":12,"h":36},{"x":1848,"v":29,"l":16,"h":41},{"x":1850,"v":27,"l":18,"h":44},{"x":1852,"v":31,"l":19,"h":41},{"x":1854,"v":25,"l":15,"h":40},{"x":1856,"v":34,"l":23,"h":47},{"x":1858,"v":28,"l":20,"h":40},
{"x":1860,"v":30,"l":20,"h":43},{"x":1862,"v":35,"l":23,"h":48},{"x":1864,"v":26,"l":17,"h":37},{"x":1866,"v":29,"l":18,"h":43},{"x":1868,"v":27,"l":14,"h":39},{"x":1870,"v":31,"l":22,"h":46},{"x":1872,"v":25,"l":13,"h":35},{"x":1874,"v":28,"l":18,"h":43},{"x":1876,"v":30,"l":19,"h":43},{"x":1878,"v":26,"l":18,"h":38},
{"x":1880,"v":35,"l":25,"h":48},{"x":1882,"v":27,"l":15,"h":43},{"x":1884,"v":29,"l":20,"h":40},{"x":1886,"v":25,"l":14,"h":39},{"x":1888,"v":30,"l":17,"h":42},{"x":1890,"v":28,"l":19,"h":45},{"x":1892,"v":26,"l":14,"h":36},{"x":1894,"v":34,"l":24,"h":49},{"x":1896,"v":27,"l":16,"h":40},{"x":1898,"v":29,"l":21,"h":41},
{"x":1900,"v":22,"l":12,"h":35},{"x":1902,"v":30,"l":18,"h":46},{"x":1904,"v":27,"l":18,"h":38},{"x":1906,"v":29,"l":18,"h":43},{"x":1908,"v":26,"l":13,"h":38},{"x":1910,"v":32,"l":23,"h":46},{"x":1912,"v":28,"l":16,"h":38},{"x":1914,"v":30,"l":20,"h":45},{"x":1916,"v":37,"l":26,"h":50},{"x":1918,"v":26,"l":18,"h":38},
{"x":1920,"v":28,"l":18,"h":41},{"x":1922,"v":25,"l":13,"h":41},{"x":1924,"v":29,"l":20,"h":40},{"x":1926,"v":27,"l":16,"h":41},{"x":1928,"v":24,"l":12,"h":36},{"x":1930,"v":30,"l":21,"h":47},{"x":1932,"v":36,"l":24,"h":46},{"x":1934,"v":26,"l":16,"h":41},{"x":1936,"v":28,"l":17,"h":41},{"x":1938,"v":25,"l":17,"h":37},
{"x":1940,"v":29,"l":19,"h":42},{"x":1942,"v":26,"l":14,"h":42},{"x":1944,"v":33,"l":24,"h":44},{"x":1946,"v":28,"l":17,"h":42},{"x":1948,"v":27,"l":14,"h":39},{"x":1950,"v":31,"l":22,"h":48},{"x":1952,"v":35,"l":23,"h":45},{"x":1954,"v":26,"l":16,"h":41},{"x":1956,"v":30,"l":19,"h":43},{"x":1958,"v":28,"l":20,"h":40},
{"x":1960,"v":31,"l":21,"h":44},{"x":1962,"v":27,"l":15,"h":43},{"x":1964,"v":29,"l":20,"h":40},{"x":1966,"v":26,"l":15,"h":40},{"x":1968,"v":30,"l":17,"h":42},{"x":1970,"v":37,"l":28,"h":49},{"x":1972,"v":21,"l":12,"h":31},{"x":1974,"v":28,"l":18,"h":43},{"x":1976,"v":26,"l":15,"h":39},{"x":1978,"v":29,"l":21,"h":41},
{"x":1980,"v":27,"l":17,"h":40},{"x":1982,"v":33,"l":21,"h":46},{"x":1984,"v":25,"l":16,"h":36},{"x":1986,"v":29,"l":18,"h":43},{"x":1988,"v":26,"l":13,"h":38},{"x":1990,"v":31,"l":22,"h":48},{"x":1992,"v":28,"l":16,"h":38},{"x":1994,"v":25,"l":15,"h":40},{"x":1996,"v":40,"l":29,"h":55},{"x":1998,"v":20,"l":12,"h":32},
{"x":2000,"v":29,"l":19,"h":42},{"x":2002,"v":26,"l":14,"h":42},{"x":2004,"v":31,"l":22,"h":42},{"x":2006,"v":42,"l":31,"h":53},{"x":2008,"v":25,"l":12,"h":37},{"x":2010,"v":28,"l":19,"h":45},{"x":2012,"v":24,"l":12,"h":34},{"x":2014,"v":30,"l":20,"h":45},{"x":2016,"v":33,"l":22,"h":46},{"x":2018,"v":28,"l":20,"h":40},{"x":2020,"v":22,"l":12,"h":35}],
"as":[{"x":1404,"s":19.2},{"x":1410,"s":18.7},{"x":1414,"s":21.6},{"x":1420,"s":20.8},{"x":1424,"s":20},{"x":1428,"s":17.6},{"x":1434,"s":18.5},{"x":1441,"s":21.6},{"x":1447,"s":21},{"x":1454,"s":19.6},{"x":1460,"s":19.9},{"x":1466,"s":21},{"x":1471,"s":19},{"x":1476,"s":16.5},{"x":1482,"s":18.3},{"x":1487,"s":21.3},{"x":1494,"s":20.3},{"x":1501,"s":19.6},{"x":1508,"s":21},{"x":1516,"s":17.3},{"x":1521,"s":20.5},{"x":1529,"s":20.3},{"x":1534,"s":23},{"x":1540,"s":21},{"x":1544,"s":18.5},{"x":1549,"s":20.3},{"x":1554,"s":22},{"x":1556,"s":22.3},{"x":1561,"s":20.3},{"x":1568,"s":19.6},{"x":1573,"s":19.5},{"x":1578,"s":18.9},{"x":1586,"s":22},{"x":1591,"s":18.5},{"x":1596,"s":20.5},{"x":1600,"s":22.3},{"x":1605,"s":22.7},{"x":1611,"s":20.5},{"x":1618,"s":19.6},{"x":1625,"s":18.9},{"x":1631,"s":18.9},{"x":1636,"s":22.3},{"x":1641,"s":20.3},{"x":1646,"s":17.9},{"x":1655,"s":17.2},{"x":1660,"s":19},{"x":1665,"s":20.3},{"x":1670,"s":21.3},{"x":1675,"s":19.6},{"x":1680,"s":20.5},{"x":1685,"s":20.3},{"x":1690,"s":18.9},{"x":1696,"s":23.2},{"x":1703,"s":21.6},{"x":1709,"s":20.3},{"x":1711,"s":22.3},{"x":1716,"s":20.3},{"x":1723,"s":20.3},{"x":1730,"s":21},{"x":1733,"s":18.5},{"x":1740,"s":21},{"x":1743,"s":22.7},{"x":1748,"s":22.3},{"x":1755,"s":19.6},{"x":1761,"s":20.5},{"x":1766,"s":19.6},{"x":1771,"s":18.9},{"x":1778,"s":17.3},{"x":1785,"s":20.5},{"x":1788,"s":23},{"x":1795,"s":19.6},{"x":1800,"s":21.3},{"x":1806,"s":21.6},{"x":1813,"s":21.2},{"x":1820,"s":21},{"x":1826,"s":19.6},{"x":1833,"s":18.9},{"x":1840,"s":17.6},{"x":1843,"s":16.3},{"x":1848,"s":18.9},{"x":1853,"s":20.3},{"x":1858,"s":21},{"x":1863,"s":22.3},{"x":1868,"s":20.3},{"x":1875,"s":20.8},{"x":1880,"s":20.3},{"x":1885,"s":18.5},{"x":1890,"s":20.3},{"x":1895,"s":21.3},{"x":1900,"s":21},{"x":1905,"s":23.2},{"x":1911,"s":22.7},{"x":1918,"s":19.6},{"x":1923,"s":18.7},{"x":1928,"s":16.9},{"x":1933,"s":16.7},{"x":1936,"s":18.3},{"x":1940,"s":21.6},{"x":1945,"s":21.9},{"x":1951,"s":21.2},{"x":1958,"s":21},{"x":1965,"s":20.5},{"x":1971,"s":21.6},{"x":1976,"s":22.9},{"x":1981,"s":24.9},{"x":1986,"s":21.3},{"x":1990,"s":18.7},{"x":1993,"s":21},{"x":1996,"s":24},{"x":2000,"s":23.6},{"x":2005,"s":19.6},{"x":2010,"s":18.3},{"x":2014,"s":20.3}],
"bs":[{"x":1404,"s":26.4},{"x":1410,"s":26},{"x":1416,"s":27.7},{"x":1422,"s":27},{"x":1427,"s":24.7},{"x":1434,"s":26.4},{"x":1441,"s":28.7},{"x":1446,"s":29.7},{"x":1452,"s":28.4},{"x":1461,"s":27.7},{"x":1467,"s":28.4},{"x":1476,"s":24.1},{"x":1482,"s":26.4},{"x":1491,"s":28.7},{"x":1499,"s":27.7},{"x":1507,"s":27.7},{"x":1512,"s":25},{"x":1517,"s":24.8},{"x":1522,"s":28.4},{"x":1529,"s":27.7},{"x":1536,"s":28.4},{"x":1544,"s":27},{"x":1551,"s":26.4},{"x":1556,"s":28.4},{"x":1563,"s":27},{"x":1570,"s":28.1},{"x":1580,"s":27.7},{"x":1586,"s":29.5},{"x":1592,"s":25.7},{"x":1600,"s":28.7},{"x":1606,"s":29.1},{"x":1615,"s":26.4},{"x":1623,"s":26},{"x":1631,"s":27},{"x":1636,"s":29},{"x":1641,"s":27.3},{"x":1646,"s":24.4},{"x":1653,"s":26.4},{"x":1660,"s":26.4},{"x":1668,"s":30.4},{"x":1673,"s":29.5},{"x":1678,"s":25.7},{"x":1685,"s":26.4},{"x":1692,"s":26.4},{"x":1698,"s":29.7},{"x":1705,"s":29.5},{"x":1709,"s":28.4},{"x":1711,"s":31},{"x":1713,"s":28.1},{"x":1720,"s":26},{"x":1723,"s":25},{"x":1730,"s":27},{"x":1736,"s":25.7},{"x":1743,"s":27},{"x":1750,"s":29},{"x":1755,"s":28.4},{"x":1761,"s":27.3},{"x":1768,"s":27.7},{"x":1773,"s":25.7},{"x":1778,"s":25},{"x":1785,"s":27.7},{"x":1791,"s":26.8},{"x":1795,"s":25},{"x":1800,"s":28.4},{"x":1808,"s":30.4},{"x":1815,"s":29},{"x":1821,"s":27.3},{"x":1828,"s":26.4},{"x":1833,"s":26},{"x":1840,"s":25},{"x":1845,"s":24.4},{"x":1850,"s":26.4},{"x":1856,"s":28.7},{"x":1861,"s":28.1},{"x":1866,"s":26.4},{"x":1871,"s":27},{"x":1876,"s":29},{"x":1881,"s":28.4},{"x":1886,"s":25},{"x":1891,"s":27},{"x":1895,"s":30},{"x":1901,"s":29},{"x":1908,"s":27.7},{"x":1915,"s":25.7},{"x":1921,"s":25},{"x":1928,"s":23.7},{"x":1933,"s":23},{"x":1938,"s":25.7},{"x":1943,"s":27.7},{"x":1948,"s":28.7},{"x":1953,"s":30.4},{"x":1960,"s":29},{"x":1965,"s":27.7},{"x":1971,"s":27.7},{"x":1978,"s":28.7},{"x":1983,"s":28.1},{"x":1989,"s":24},{"x":1993,"s":28.4},{"x":1998,"s":31},{"x":2002,"s":29.7},{"x":2005,"s":26.8},{"x":2010,"s":27.7},{"x":2014,"s":27.3}],
"cs":[{"x":1405,"s":27.7},{"x":1411,"s":28.3},{"x":1417,"s":27.3},{"x":1424,"s":28},{"x":1432,"s":28.3},{"x":1441,"s":28.7},{"x":1449,"s":29},{"x":1457,"s":29.6},{"x":1464,"s":30},{"x":1471,"s":29.3},{"x":1477,"s":28.7},{"x":1481,"s":27},{"x":1491,"s":29},{"x":1499,"s":29},{"x":1507,"s":27.7},{"x":1516,"s":27.7},{"x":1524,"s":27.7},{"x":1531,"s":28.7},{"x":1536,"s":27},{"x":1544,"s":29.3},{"x":1551,"s":27.2},{"x":1554,"s":26.4},{"x":1558,"s":26},{"x":1565,"s":27.3},{"x":1570,"s":29.3},{"x":1575,"s":31.3},{"x":1578,"s":29},{"x":1585,"s":28.7},{"x":1591,"s":27.7},{"x":1600,"s":28.7},{"x":1608,"s":30},{"x":1613,"s":29},{"x":1618,"s":26.7},{"x":1625,"s":28},{"x":1633,"s":27.7},{"x":1641,"s":27.3},{"x":1648,"s":26.9},{"x":1655,"s":28.3},{"x":1662,"s":28.3},{"x":1668,"s":30},{"x":1673,"s":29},{"x":1678,"s":26.9},{"x":1685,"s":26.9},{"x":1692,"s":27.7},{"x":1696,"s":29.6},{"x":1705,"s":29.1},{"x":1709,"s":28.3},{"x":1713,"s":27.7},{"x":1721,"s":25.3},{"x":1728,"s":26.4},{"x":1736,"s":26.9},{"x":1743,"s":28},{"x":1750,"s":30.4},{"x":1756,"s":28.7},{"x":1763,"s":28.7},{"x":1770,"s":28.3},{"x":1776,"s":27.7},{"x":1783,"s":28.3},{"x":1790,"s":26.7},{"x":1796,"s":28},{"x":1803,"s":30},{"x":1810,"s":30.7},{"x":1816,"s":29},{"x":1823,"s":28.3},{"x":1830,"s":27.7},{"x":1836,"s":27.7},{"x":1843,"s":28.7},{"x":1850,"s":26.7},{"x":1856,"s":28.3},{"x":1861,"s":29.3},{"x":1868,"s":27.3},{"x":1873,"s":28},{"x":1878,"s":30},{"x":1883,"s":29.3},{"x":1886,"s":26.7},{"x":1891,"s":27.7},{"x":1896,"s":30.4},{"x":1903,"s":28.7},{"x":1910,"s":27.7},{"x":1918,"s":26.9},{"x":1925,"s":26},{"x":1931,"s":26.9},{"x":1938,"s":26},{"x":1945,"s":28},{"x":1951,"s":31},{"x":1958,"s":30.4},{"x":1965,"s":27.7},{"x":1971,"s":27.3},{"x":1978,"s":26.4},{"x":1985,"s":27.3},{"x":1993,"s":29},{"x":2000,"s":28.3},{"x":2005,"s":28.3},{"x":2010,"s":29},{"x":2014,"s":28.3}]
},
"vconcat":[
{"width":1243,"height":167,"title":{"text":"(a) South"},
"layer":[
{"data":{"name":"grid"},"mark":{"type":"rule","color":"#f1f1f1","strokeWidth":1},"encoding":{"y":{"field":"g","type":"quantitative","title":"AR Counts","scale":{"domain":[1.9,69],"nice":false,"zero":false},"axis":{"values":[20,40,60],"labelFontSize":15,"labelFontWeight":"bold","labelPadding":3,"titlePadding":3}}}},
{"data":{"name":"a"},"mark":{"type":"line","color":"#6e6e6e","strokeWidth":2.8},
"encoding":{"x":{"field":"x","type":"quantitative","title":null,"scale":{"domain":[1400,2021.5],"nice":false,"zero":false},
"axis":{"values":[1400,1425,1450,1475,1500,1525,1550,1575,1600,1625,1650,1675,1700,1725,1750,1775,1800,1825,1850,1875,1900,1925,1950,1975,2000],"labels":false,"tickOpacity":{"condition":{"test":"datum.value % 50 === 0","value":1},"value":0},"gridColor":{"condition":{"test":"datum.value % 50 === 0","value":"#e3e3e3"},"value":"#f1f1f1"}}},
"y":{"field":"v","type":"quantitative","title":"AR Counts"}}},
{"data":{"name":"a"},"mark":{"type":"area","color":"#0000ff","opacity":0.3},"encoding":{"x":{"field":"x","type":"quantitative","title":null},"y":{"field":"l","type":"quantitative","title":"AR Counts"},"y2":{"field":"h"}}},
{"data":{"name":"as"},"mark":{"type":"line","color":"#dc0a3c","strokeWidth":3},"encoding":{"x":{"field":"x","type":"quantitative","title":null},"y":{"field":"s","type":"quantitative","title":"AR Counts"}}},
{"data":{"values":[{}]},"mark":{"type":"rule","color":"#000000","strokeWidth":1.2,"strokeDash":[5,4]},"encoding":{"y":{"datum":20}}}
]},
{"width":1243,"height":167,"title":{"text":"(b) Central"},
"layer":[
{"data":{"name":"grid"},"mark":{"type":"rule","color":"#f1f1f1","strokeWidth":1},"encoding":{"y":{"field":"g","type":"quantitative","title":"AR Counts","scale":{"domain":[1.9,69],"nice":false,"zero":false},"axis":{"values":[20,40,60],"labelFontSize":15,"labelFontWeight":"bold","labelPadding":3,"titlePadding":3}}}},
{"data":{"name":"b"},"mark":{"type":"line","color":"#6e6e6e","strokeWidth":2.8},
"encoding":{"x":{"field":"x","type":"quantitative","title":null,"scale":{"domain":[1400,2021.5],"nice":false,"zero":false},
"axis":{"values":[1400,1425,1450,1475,1500,1525,1550,1575,1600,1625,1650,1675,1700,1725,1750,1775,1800,1825,1850,1875,1900,1925,1950,1975,2000],"labels":false,"tickOpacity":{"condition":{"test":"datum.value % 50 === 0","value":1},"value":0},"gridColor":{"condition":{"test":"datum.value % 50 === 0","value":"#e3e3e3"},"value":"#f1f1f1"}}},
"y":{"field":"v","type":"quantitative","title":"AR Counts"}}},
{"data":{"name":"b"},"mark":{"type":"area","color":"#0000ff","opacity":0.3},"encoding":{"x":{"field":"x","type":"quantitative","title":null},"y":{"field":"l","type":"quantitative","title":"AR Counts"},"y2":{"field":"h"}}},
{"data":{"name":"bs"},"mark":{"type":"line","color":"#dc0a3c","strokeWidth":3},"encoding":{"x":{"field":"x","type":"quantitative","title":null},"y":{"field":"s","type":"quantitative","title":"AR Counts"}}},
{"data":{"values":[{}]},"mark":{"type":"rule","color":"#000000","strokeWidth":1.2,"strokeDash":[5,4]},"encoding":{"y":{"datum":27.4}}}
]},
{"width":1243,"height":167,"title":{"text":"(c) North"},
"layer":[
{"data":{"name":"grid"},"mark":{"type":"rule","color":"#f1f1f1","strokeWidth":1},"encoding":{"y":{"field":"g","type":"quantitative","title":"AR Counts","scale":{"domain":[1.9,69],"nice":false,"zero":false},"axis":{"values":[20,40,60],"labelFontSize":15,"labelFontWeight":"bold","labelPadding":3,"titlePadding":3}}}},
{"data":{"name":"c"},"mark":{"type":"line","color":"#6e6e6e","strokeWidth":2.8},
"encoding":{"x":{"field":"x","type":"quantitative","title":"Year (CE)","scale":{"domain":[1400,2021.5],"nice":false,"zero":false},
"axis":{"values":[1400,1425,1450,1475,1500,1525,1550,1575,1600,1625,1650,1675,1700,1725,1750,1775,1800,1825,1850,1875,1900,1925,1950,1975,2000],"format":"d","labelExpr":"datum.value % 50 === 0 ? datum.label : ''","labelFontSize":15,"labelFontWeight":"bold","labelPadding":-1,"titlePadding":5,"tickOpacity":{"condition":{"test":"datum.value % 50 === 0","value":1},"value":0},"gridColor":{"condition":{"test":"datum.value % 50 === 0","value":"#e3e3e3"},"value":"#f1f1f1"}}},
"y":{"field":"v","type":"quantitative","title":"AR Counts"}}},
{"data":{"name":"c"},"mark":{"type":"area","color":"#0000ff","opacity":0.3},"encoding":{"x":{"field":"x","type":"quantitative","title":"Year (CE)"},"y":{"field":"l","type":"quantitative","title":"AR Counts"},"y2":{"field":"h"}}},
{"data":{"name":"cs"},"mark":{"type":"line","color":"#dc0a3c","strokeWidth":3},"encoding":{"x":{"field":"x","type":"quantitative","title":"Year (CE)"},"y":{"field":"s","type":"quantitative","title":"AR Counts"}}},
{"data":{"values":[{}]},"mark":{"type":"rule","color":"#000000","strokeWidth":1.2,"strokeDash":[5,4]},"encoding":{"y":{"datum":28.3}}}
]}
]
}
